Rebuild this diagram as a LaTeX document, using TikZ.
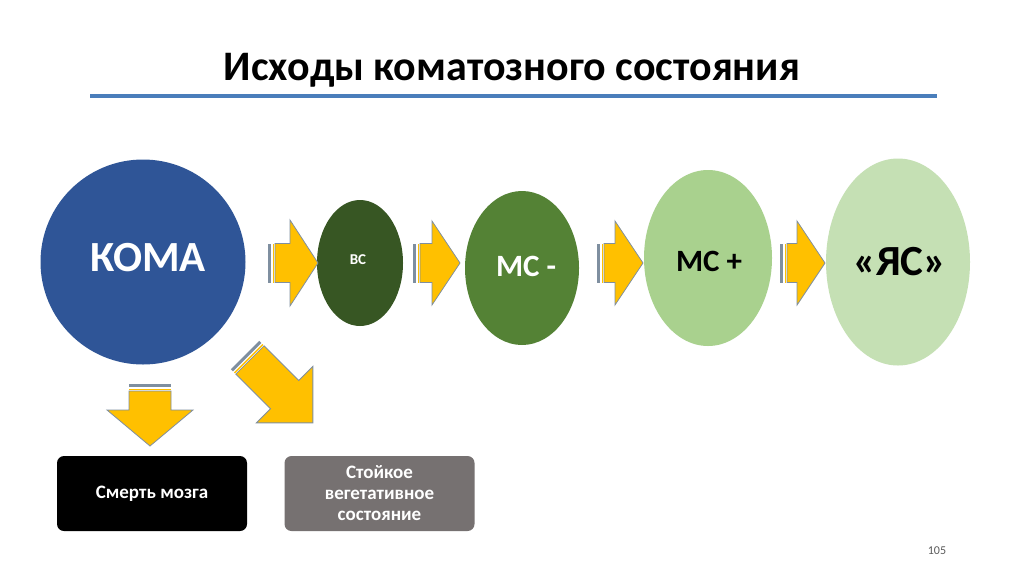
\documentclass[tikz,border=0pt]{standalone}
\usepackage{fontspec}
\setmainfont{Carlito}
\usetikzlibrary{shapes.geometric}
\definecolor{arrgray}{HTML}{7F8FA0}
\definecolor{arryel}{HTML}{FFC000}
\definecolor{koma}{HTML}{2F5597}
\definecolor{vs}{HTML}{375623}
\definecolor{msm}{HTML}{548235}
\definecolor{msp}{HTML}{A9D18E}
\definecolor{yas}{HTML}{C5E0B4}
\definecolor{line}{HTML}{4A7EBB}
\newcommand\myarrow[7]{%
\begin{scope}[shift={(#1,#2)},rotate=#3]
\fill[arrgray] (0,-#6) rectangle (3,#6);
\fill[arryel] (4.5,-#6) rectangle (6,#6);
\filldraw[fill=arryel, draw=arrgray, line width=.8pt] (7,-#6) -- ({#4-#5},-#6) -- ({#4-#5},-#7) -- (#4,0) -- ({#4-#5},#7) -- ({#4-#5},#6) -- (7,#6) -- cycle;
\end{scope}}
\begin{document}
\begin{tikzpicture}[x=1pt,y=-1pt,
  blob/.style={ellipse,inner sep=0pt,font=\bfseries},
  outbox/.style={rounded corners=7pt,minimum width=190pt,minimum height=75pt,align=center,text=white,font=\bfseries\fontsize{19}{21}\selectfont}]
\useasboundingbox[fill=white] (0,0) rectangle (1024,574);
\node[font=\bfseries\fontsize{42}{48}\selectfont] (title) at (512,70) {Исходы коматозного состояния};
\draw[line,line width=4pt] (90,96) -- (937,96);
\node[circle,fill=koma,minimum size=205pt,inner sep=0pt] (koma) at (143,262) {};
\node[text=white,font=\bfseries\fontsize{43}{48}\selectfont] at (148,258) {КОМА};
\node[blob,fill=vs,minimum width=86pt,minimum height=126pt] (vs) at (360,263) {};
\node[text=white,font=\bfseries\fontsize{15}{17}\selectfont] at (358,260) {ВС};
\node[blob,fill=msm,minimum width=114pt,minimum height=154pt] (msm) at (522,268) {};
\node[text=white,font=\bfseries\fontsize{31}{35}\selectfont] at (526,266) {МС -};
\node[blob,fill=msp,minimum width=128pt,minimum height=176pt] (msp) at (708,258) {};
\node[font=\bfseries\fontsize{31}{35}\selectfont] at (709,261) {МС +};
\node[blob,fill=yas,minimum width=144pt,minimum height=207pt] (yas) at (898,262) {};
\node[font=\bfseries\fontsize{43}{48}\selectfont] at (900,262) {«ЯС»};
\myarrow{268}{263}{0}{50}{28}{19.5}{43}
\myarrow{413}{263}{0}{47}{28}{19.5}{42}
\myarrow{597}{263}{0}{46}{28}{19.5}{42}
\myarrow{780}{263}{0}{45}{28}{19.5}{42}
\myarrow{150}{384}{-90}{62}{36}{21}{43}
\myarrow{245}{355}{-45}{96}{40}{20}{40}
\node[outbox,fill=black] (death) at (152,493.5) {Смерть мозга};
\node[outbox,fill={rgb,255:red,118;green,113;blue,113}] (veg) at (379.5,493.5) {Стойкое\\вегетативное\\состояние};
\node[font=\fontsize{12}{14}\selectfont,text={rgb,255:red,90;green,90;blue,90}] (pg) at (937,551) {105};
\end{tikzpicture}
\end{document}
